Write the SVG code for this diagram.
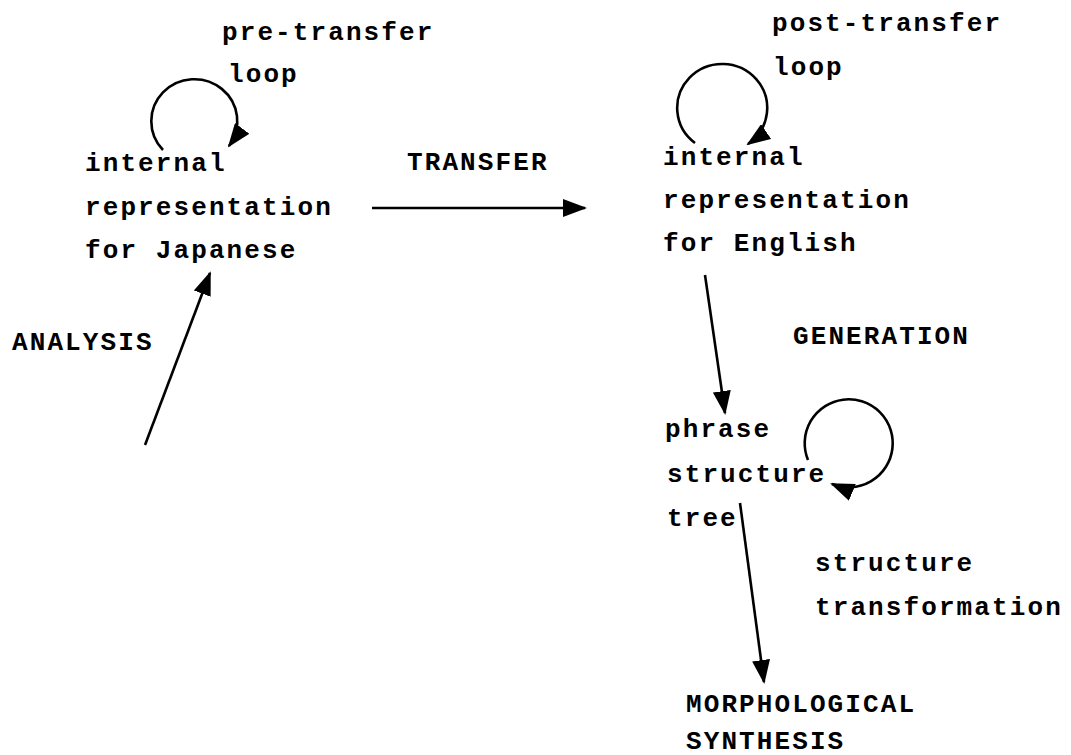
<svg xmlns="http://www.w3.org/2000/svg" width="1071" height="755" viewBox="0 0 1071 755">
<style>
text{font-family:"Liberation Mono","Courier New",monospace;font-size:26px;font-weight:bold;letter-spacing:2.1px;fill:#000}
.c{fill:none;stroke:#000;stroke-width:2.6}
</style>
<defs>
<marker id="ah" markerUnits="userSpaceOnUse" markerWidth="24" markerHeight="18" refX="22" refY="9" orient="auto">
<path d="M0,0 L24,9 L0,18 z" fill="#000"/>
</marker>
</defs>
<rect width="1071" height="755" fill="#fff"/>
<g id="labels">
<text x="222" y="40">pre-transfer</text>
<text x="228" y="82">loop</text>
<text x="407" y="170">TRANSFER</text>
<text x="772" y="31">post-transfer</text>
<text x="773" y="75">loop</text>
<text x="12" y="350">ANALYSIS</text>
<text x="793" y="344">GENERATION</text>
<text x="815" y="571">structure</text>
<text x="815" y="615">transformation</text>
</g>
<g id="node-japanese">
<text x="85" y="171">internal</text>
<text x="85" y="215">representation</text>
<text x="85" y="258">for Japanese</text>
</g>
<g id="node-english">
<text x="663" y="165">internal</text>
<text x="663" y="208">representation</text>
<text x="663" y="251">for English</text>
</g>
<g id="node-tree">
<text x="665" y="437">phrase</text>
<text x="667" y="482">structure</text>
<text x="667" y="526">tree</text>
</g>
<g id="node-morph">
<text x="686" y="712">MORPHOLOGICAL</text>
<text x="686" y="749">SYNTHESIS</text>
</g>
<g id="connectors">
<path class="c" d="M145,445 L210,273" marker-end="url(#ah)"/>
<path class="c" d="M372,208 L585,208" marker-end="url(#ah)"/>
<path class="c" d="M163,150 A43,42 0 1 1 229,146" marker-end="url(#ah)"/>
<path class="c" d="M695,143 A45,44 0 1 1 748,144" marker-end="url(#ah)"/>
<path class="c" d="M705,275 L725,413" marker-end="url(#ah)"/>
<path class="c" d="M808,460 A44,44 0 1 1 832,484" marker-end="url(#ah)"/>
<path class="c" d="M740,503 L764,682" marker-end="url(#ah)"/>
</g>
</svg>
